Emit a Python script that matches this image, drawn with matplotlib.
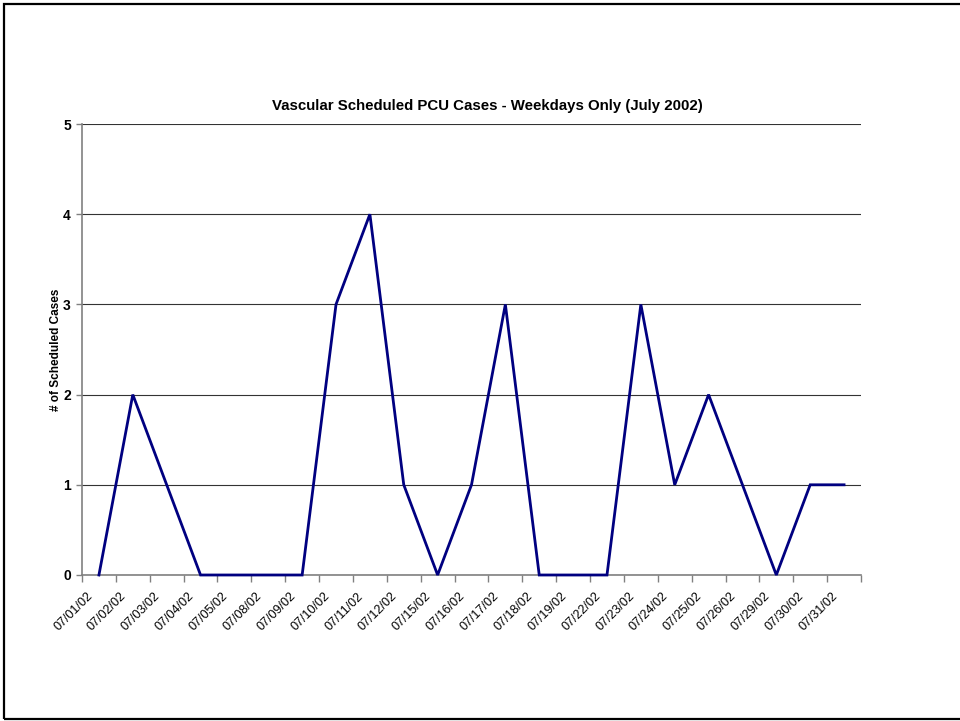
import matplotlib
matplotlib.use("Agg")
import matplotlib.pyplot as plt
from matplotlib.patches import Rectangle
import numpy as np

plt.rcParams.update({
    "font.family": ["Liberation Sans", "DejaVu Sans"],
    "font.size": 9,
})

# -- Data ---------------------------------------------------------------------

dates = ["07/01/02", "07/02/02", "07/03/02", "07/04/02", "07/05/02",
         "07/08/02", "07/09/02", "07/10/02", "07/11/02", "07/12/02",
         "07/15/02", "07/16/02", "07/17/02", "07/18/02", "07/19/02",
         "07/22/02", "07/23/02", "07/24/02", "07/25/02", "07/26/02",
         "07/29/02", "07/30/02", "07/31/02"]
cases = [0, 2, 1, 0, 0, 0, 0, 3, 4, 1, 0, 1, 3, 0, 0, 0, 3, 1, 2, 1, 0, 1, 1]

NAVY = "#000080"
GREY = "#808080"

# -- Figure -------------------------------------------------------------------

fig = plt.figure(figsize=(9.6, 7.21), dpi=100)
ax = fig.add_axes([82 / 960, 1 - 575 / 721, 779 / 960, 451 / 721])

x = np.arange(len(dates))
ax.plot(x, cases, color=NAVY, lw=2.0, solid_joinstyle="miter", zorder=3,
        clip_on=False)

ax.set_xlim(-0.5, len(dates) - 0.5)
ax.set_ylim(0, 5)

# category boundaries carry the tick marks; the rotated labels hang just
# left of each category centre
ax.set_xticks(np.arange(len(dates) + 1) - 0.5)
ax.set_xticklabels([])
ax.set_xticks(x - 0.12, minor=True)
ax.set_xticklabels(dates, minor=True, rotation=45, ha="right", va="top",
                   fontsize=9)
ax.tick_params(axis="x", which="major", length=5, width=1, color=GREY,
               direction="out")
ax.tick_params(axis="x", which="minor", length=0, pad=11)

ax.set_yticks(range(0, 6))
ax.tick_params(axis="y", length=4, width=1, color=GREY, direction="out",
               pad=4, labelsize=10)
for lbl in ax.get_yticklabels():
    lbl.set_fontweight("bold")

ax.grid(axis="y", color="#333333", lw=0.8, zorder=1)
ax.set_axisbelow(True)
for side in ("top", "right"):
    ax.spines[side].set_visible(False)
for side in ("left", "bottom"):
    ax.spines[side].set_color(GREY)
    ax.spines[side].set_linewidth(1.2)

ax.set_ylabel("# of Scheduled Cases", fontsize=8.5, fontweight="bold",
              labelpad=1)
ax.set_title("Vascular Scheduled PCU Cases - Weekdays Only (July 2002)",
             fontsize=10.8, fontweight="bold", pad=10, x=0.52)

# outer chart frame
fig.add_artist(Rectangle((4 / 960, 2 / 721), 1.0, 715 / 721,
                         transform=fig.transFigure, fill=False,
                         edgecolor="black", lw=1.6, clip_on=False))

fig.savefig("out.png", dpi=100)
plt.close(fig)
